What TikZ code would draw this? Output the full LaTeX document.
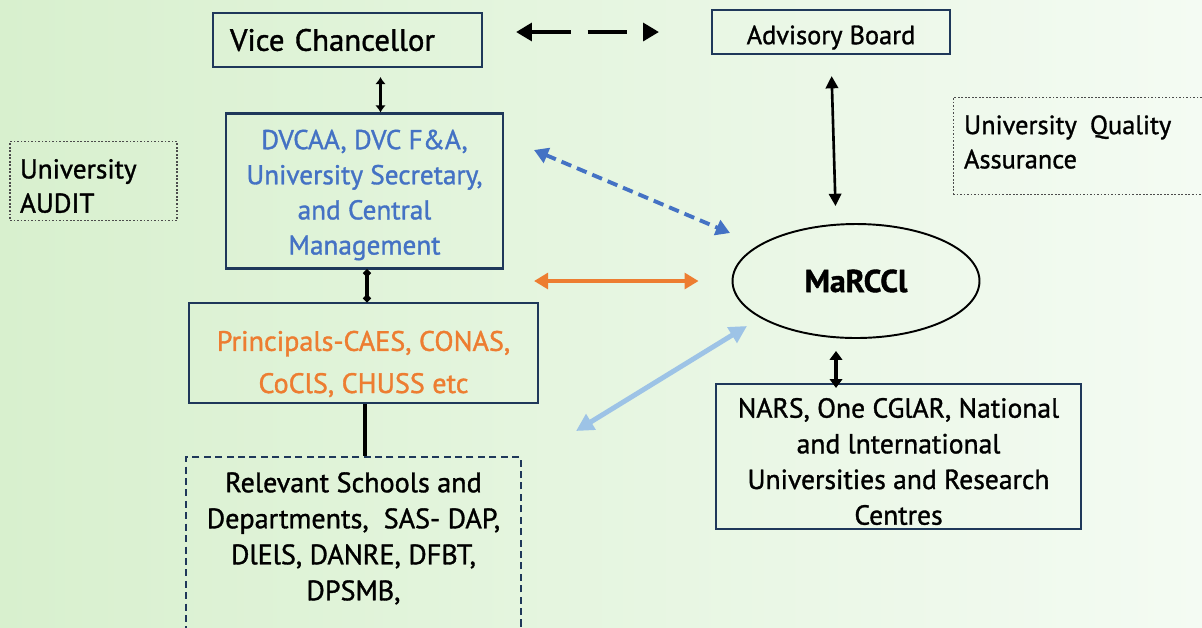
\documentclass[tikz,border=0pt]{standalone}
\usepackage{fontspec}
\setmainfont{PT Sans}[FakeBold=1.2]
\usetikzlibrary{arrows.meta,shapes.geometric,positioning}

\definecolor{boxline}{RGB}{31,56,90}
\definecolor{dvcblue}{RGB}{68,114,196}
\definecolor{prinorange}{RGB}{237,125,49}
\definecolor{lightblue}{RGB}{157,195,230}
\definecolor{bgleft}{RGB}{216,240,206}
\definecolor{bgright}{RGB}{244,251,243}

\begin{document}
\begin{tikzpicture}[x=0.02cm,y=-0.02cm]

\tikzstyle{box}=[draw=boxline,line width=1.2pt,inner sep=0pt,align=center]
\tikzstyle{dotbox}=[draw=black!70,line width=0.6pt,dash pattern=on 1pt off 1pt,inner ysep=0pt,align=left]
\tikzstyle{link}=[line width=2.2pt,black]

   %page and background
   \useasboundingbox (0,0) rectangle (1202,627);
   \clip (0,0) rectangle (1202,627);
   \shade[left color=bgleft,right color=bgright] (0,0) rectangle (1202,627);

   %top row
   \node (vc) at (347.5,40) [box,align=left,inner xsep=0.34cm,text width=4.7cm,minimum height=1.08cm,font=\fontsize{17.5}{21}\selectfont] {Vice Chancellor};
   \node (adv) at (831,32) [box,minimum width=4.76cm,minimum height=0.88cm] {};
   \node (adv_text) at (adv.center) [yshift=-0.11cm,font=\fontsize{15}{18}\selectfont] {Advisory Board};

   %left column
   \node (dvc) at (364.5,191) [box,minimum width=5.54cm,minimum height=3.10cm] {};
   \node (dvc_text) at (dvc.center) [yshift=-0.08cm,align=center,text=dvcblue,font=\fontsize{15.5}{20}\selectfont] {DVCAA, DVC F\&A,\\University Secretary,\\and Central\\Management};
   \node (prin) at (363.5,353) [box,minimum width=6.98cm,minimum height=2.0cm] {};
   \node (prin_text) at (prin.center) [yshift=-0.22cm,align=center,text=prinorange,font=\fontsize{16}{24}\selectfont] {Principals-CAES, CONAS,\\CoClS, CHUSS etc};
   \node (rel) [box,dash pattern=on 4pt off 2.5pt,anchor=north,minimum width=6.7cm,minimum height=4cm] at (353.5,456) {};
   \node (rel_text) [anchor=north,align=center,font=\fontsize{16}{20.5}\selectfont] at (rel.north) [yshift=-0.2cm] {Relevant Schools and\\Departments,~ SAS- DAP,\\DlElS, DANRE, DFBT,\\DPSMB,};

   %side notes
   \node (audit) at (93.5,181) [dotbox,inner xsep=0.2cm,text width=2.94cm,minimum height=1.58cm] {};
   \node (audit_text) at (audit.center) [yshift=-0.1cm,align=left,text width=2.94cm,font=\fontsize{15.5}{19.5}\selectfont] {University\\AUDIT};
   \node (uqa) at (1081.5,146) [dotbox,inner xsep=0.22cm,text width=4.7cm,minimum height=1.94cm] {};
   \node (uqa_text) at (uqa.center) [yshift=0.08cm,align=left,text width=4.7cm,font=\fontsize{15}{19.5}\selectfont] {University\, Quality\\Assurance};

   %right column
   \node (mar) at (856,281) [ellipse,draw,line width=1.1pt,minimum width=4.94cm,minimum height=2.28cm,font=\bfseries\fontsize{18}{21}\selectfont] {MaRCCl};
   \node (nars) at (898.5,456.5) [box,minimum width=7.3cm,minimum height=2.9cm] {};
   \node (nars_text) at (nars.center) [yshift=-0.1cm,align=center,font=\fontsize{15.7}{20.3}\selectfont] {NARS, One CGlAR, National\\and lnternational\\Universities and Research\\Centres};

   \coordinate (db_s) at (534,150);
   \coordinate (db_e) at (730,233);
   \coordinate (lb_s) at (576,431);
   \coordinate (lb_e) at (747,326);

   %connectors
   \draw[line width=2.3pt,dash pattern=on 22.7pt off 9.6pt,{Triangle[length=9pt,width=10pt]}-{Triangle[length=9pt,width=10pt]},shorten <=0.66cm,shorten >=1.04cm] (vc.east |- adv.west) -- (adv.west);
   \draw[link,{Latex[length=4pt,width=6pt]}-{Latex[length=4pt,width=6pt]},shorten <=0.18cm] ([xshift=0.66cm]vc.south) -- ([xshift=0.66cm]vc.south |- dvc.north);
   \draw[link,{Circle[length=4pt]}-{Circle[length=4pt]}] ([xshift=0.05cm]dvc.south) -- ([xshift=0.05cm]dvc.south |- prin.north);
   \draw[line width=2.2pt] (prin.south) ++(0.03cm,0) -- ([xshift=0.03cm]prin.south |- rel.north);

   \draw[line width=1.5pt,{Triangle[length=7pt,width=7pt]}-{Triangle[length=7pt,width=7pt]},shorten <=0.42cm,shorten >=0.34cm] (adv.south) -- ([xshift=-0.4cm]mar.north);
   \draw[line width=1.8pt,{Triangle[length=5pt,width=7pt]}-{Triangle[length=5pt,width=7pt]},shorten <=0.24cm,shorten >=-0.1cm] ([xshift=-0.4cm]mar.south) -- ([xshift=-0.4cm]mar.south |- nars.north);

   \draw[dvcblue,line width=2.2pt,dash pattern=on 6pt off 3.5pt,{Triangle[length=8pt,width=9pt]}-{Triangle[length=8pt,width=9pt]}] (db_s) -- (db_e);
   \draw[prinorange,line width=2.3pt,{Triangle[length=8pt,width=9pt]}-{Triangle[length=8pt,width=9pt]},shorten <=0.6cm,shorten >=0.66cm] (mar.west -| dvc.east) -- (mar.west);
   \draw[lightblue,line width=2.8pt,{Triangle[length=10pt,width=10pt]}-{Triangle[length=10pt,width=10pt]}] (lb_s) -- (lb_e);

\end{tikzpicture}
\end{document}
